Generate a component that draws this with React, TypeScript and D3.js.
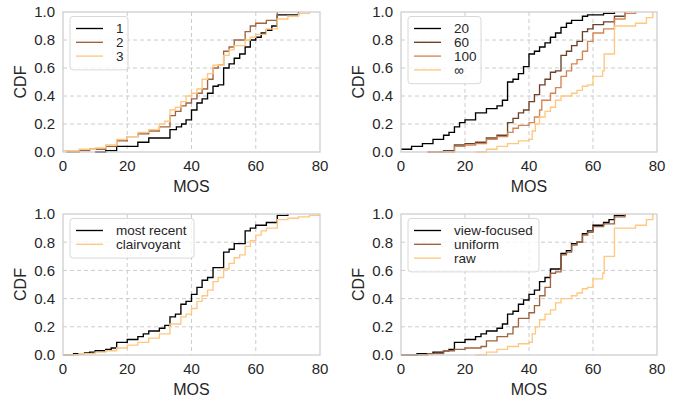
import React from 'react';
import * as d3 from 'd3';

// MOS ticks and CDF ticks
const xTicks = [0, 20, 40, 60, 80];
const yTicks = [0, 0.2, 0.4, 0.6, 0.8, 1.0];

// copper colormap samples
const copper = (t: number) =>
  d3.rgb(Math.min(255, 255 * 1.25 * t), 255 * 0.7812 * t, 255 * 0.4975 * t).formatHex();

type Pt = [number, number];

// panel 1: number of ...
const p1Labels = ['1', '2', '3'];
const p1Series: Pt[][] = [
  [[10, 0], [13.3, 0.01], [16.7, 0.04], [23.3, 0.07], [26.7, 0.1], [33.3, 0.16], [35.3, 0.18], [36.9, 0.2], [38.3, 0.23],
    [40, 0.3], [41.7, 0.35], [43.3, 0.38], [45, 0.42], [46.7, 0.47], [48.3, 0.48], [50, 0.6], [51.7, 0.63], [53.3, 0.67],
    [55, 0.7], [56.7, 0.75], [58.3, 0.8], [60, 0.82], [61.7, 0.85], [63.3, 0.87], [65, 0.9], [66.7, 0.98], [73.3, 1.0]],
  [[1, 0], [5, 0.01], [8.3, 0.02], [13.3, 0.04], [16.7, 0.08], [20, 0.11], [23.3, 0.13], [26.7, 0.15], [30, 0.18],
    [33.3, 0.26], [35, 0.29], [36.7, 0.33], [38.3, 0.35], [40, 0.38], [41.7, 0.42], [43.3, 0.45], [45, 0.52], [46.7, 0.6],
    [48.3, 0.62], [50, 0.72], [51.7, 0.75], [53.3, 0.8], [56.7, 0.86], [58.3, 0.9], [60, 0.92], [63.3, 0.94], [66.7, 1.0]],
  [[0, 0.01], [5, 0.02], [10, 0.03], [13.3, 0.05], [16.7, 0.09], [20, 0.11], [23.3, 0.14], [26.7, 0.16], [30, 0.2],
    [31.7, 0.22], [33.3, 0.3], [35, 0.32], [36.7, 0.36], [38.3, 0.4], [40, 0.42], [41.7, 0.45], [43.3, 0.52], [45, 0.56],
    [46.7, 0.62], [50, 0.69], [51.7, 0.73], [53.3, 0.76], [56.7, 0.8], [58.3, 0.82], [60, 0.84], [63.3, 0.88],
    [66.7, 0.95], [70, 0.97], [73.3, 0.99], [76.7, 1.0]],
];

// panel 2: window size
const p2Labels = ['20', '60', '100', '\u221e'];
const rawCurve: Pt[] = [[23.3, 0], [26.7, 0.02], [30, 0.04], [33.3, 0.06], [36.7, 0.08], [40, 0.09], [41, 0.15],
  [42, 0.2], [43.3, 0.25], [45, 0.29], [46.7, 0.32], [48.3, 0.37], [50, 0.4], [53.3, 0.42], [55, 0.44], [56.7, 0.47],
  [58.3, 0.48], [60, 0.54], [63, 0.58], [63.5, 0.7], [66.7, 0.9], [73.3, 0.92], [76.7, 0.96], [78.7, 1.0]];
const p2Series: Pt[][] = [
  [[0, 0.02], [3.3, 0.04], [6.7, 0.06], [10, 0.09], [13.3, 0.12], [15, 0.14], [16.7, 0.18], [18.3, 0.21], [20, 0.23],
    [23.3, 0.28], [26.7, 0.31], [30, 0.33], [31.7, 0.37], [33.3, 0.5], [35, 0.52], [36.7, 0.56], [38.3, 0.61],
    [40, 0.7], [41.7, 0.72], [43.3, 0.75], [45, 0.78], [46.7, 0.82], [48.3, 0.85], [50, 0.89], [51.7, 0.92],
    [53.3, 0.94], [56.7, 0.97], [58.3, 0.98], [63.3, 0.99], [66.7, 1.0]],
  [[8.3, 0], [13.3, 0.01], [16.7, 0.05], [20, 0.06], [23.3, 0.07], [26.7, 0.1], [30, 0.12], [33.3, 0.21], [35, 0.24],
    [36.7, 0.28], [38.3, 0.3], [40, 0.36], [41.7, 0.41], [43.3, 0.48], [45, 0.52], [46.7, 0.57], [48.3, 0.58],
    [50, 0.69], [51.7, 0.72], [53.3, 0.76], [55, 0.79], [56.7, 0.86], [58.3, 0.88], [60, 0.91], [63.3, 0.93],
    [66.7, 0.97], [70, 1.0]],
  [[8.3, 0], [16.7, 0.04], [20, 0.05], [23.3, 0.06], [26.7, 0.09], [30, 0.11], [33.3, 0.14], [35, 0.17], [36.7, 0.19],
    [40, 0.21], [41.7, 0.25], [43.3, 0.3], [44, 0.37], [46.7, 0.42], [48.3, 0.46], [50, 0.54], [51.7, 0.58],
    [53.3, 0.63], [55, 0.66], [56.7, 0.72], [58.3, 0.79], [60, 0.85], [63.3, 0.88], [66.7, 0.95], [70, 0.99], [73.3, 1.0]],
  rawCurve,
];

// panel 3: predictor
const p3Labels = ['most recent', 'clairvoyant'];
const p3Series: Pt[][] = [
  [[0, 0], [3.3, 0.01], [6.7, 0.015], [8.3, 0.02], [10, 0.03], [13.3, 0.04], [15, 0.05], [16.7, 0.09], [20, 0.11],
    [23.3, 0.13], [25, 0.15], [26.7, 0.17], [30, 0.19], [31.7, 0.21], [33.3, 0.27], [35, 0.29], [36.7, 0.36],
    [38.3, 0.38], [40, 0.43], [41.7, 0.48], [43.3, 0.53], [45, 0.55], [46.7, 0.62], [50, 0.73], [51.7, 0.75],
    [53.3, 0.79], [56.7, 0.88], [58.3, 0.9], [60, 0.92], [63.3, 0.94], [66.7, 0.99], [70, 1.0]],
  [[0, 0], [5, 0.01], [10, 0.02], [13.3, 0.03], [16.7, 0.05], [20, 0.07], [23.3, 0.09], [26.7, 0.12], [30, 0.15],
    [33.3, 0.22], [36.7, 0.27], [38.3, 0.29], [40, 0.33], [41.7, 0.38], [43.3, 0.42], [45, 0.46], [46.7, 0.52],
    [48.3, 0.55], [50, 0.61], [51.7, 0.65], [53.3, 0.69], [55, 0.71], [56.7, 0.77], [58.3, 0.81], [60, 0.85],
    [61.7, 0.88], [63.3, 0.9], [66.7, 0.96], [70, 0.97], [73.3, 0.98], [76.7, 0.99], [80, 1.0]],
];

// panel 4: weighting
const p4Labels = ['view-focused', 'uniform', 'raw'];
const p4Series: Pt[][] = [
  [[0, 0], [5, 0.01], [10, 0.02], [13.3, 0.03], [15, 0.04], [16.7, 0.09], [20, 0.11], [23.3, 0.13], [25, 0.15],
    [26.7, 0.17], [30, 0.19], [31.7, 0.22], [33.3, 0.29], [35, 0.31], [36.7, 0.36], [38.3, 0.39], [40, 0.43],
    [41.7, 0.46], [43.3, 0.52], [45, 0.55], [46.7, 0.61], [50, 0.72], [51.7, 0.74], [53.3, 0.79], [55, 0.8],
    [56.7, 0.86], [58.3, 0.88], [60, 0.92], [63.3, 0.94], [65, 0.96], [66.7, 0.99], [70, 1.0]],
  [[0, 0], [8.3, 0.01], [13.3, 0.03], [16.7, 0.04], [20, 0.05], [25, 0.06], [26.7, 0.1], [30, 0.13], [33.3, 0.15],
    [35, 0.2], [36.7, 0.26], [40, 0.3], [41.7, 0.35], [43.3, 0.42], [45, 0.48], [46.7, 0.58], [48.3, 0.59],
    [50, 0.71], [51.7, 0.73], [53.3, 0.78], [55, 0.8], [56.7, 0.85], [58.3, 0.87], [60, 0.91], [63.3, 0.93],
    [66.7, 0.98], [70, 1.0]],
  rawCurve,
];

const FONT = '"Liberation Sans", Arial, sans-serif';
const GRID = '#cccccc';

type PanelProps = {
  left: number; top: number; w: number; h: number;
  series: Pt[][]; labels: string[]; legendW: number;
};

const Panel = ({ left, top, w, h, series, labels, legendW }: PanelProps) => {
  const x = d3.scaleLinear().domain([0, 80]).range([0, w]);
  const y = d3.scaleLinear().domain([0, 1]).range([h, 0]);
  const line = d3.line<Pt>().x(d => x(d[0])).y(d => y(d[1])).curve(d3.curveStepAfter);
  const n = labels.length;
  const colors = labels.map((_, i) => copper(n === 1 ? 0 : i / (n - 1)));
  const rowH = 13.8;
  return (
    <g transform={`translate(${left},${top})`}>
      <defs>
        <clipPath id={`clip-${left}-${top}`}>
          <rect x={0} y={-1} width={w} height={h + 2} />
        </clipPath>
      </defs>
      {xTicks.slice(1, -1).map(t => (
        <line key={'gx' + t} x1={x(t)} x2={x(t)} y1={0} y2={h} stroke={GRID} strokeDasharray="4,3" strokeWidth={1} />
      ))}
      {yTicks.slice(1, -1).map(t => (
        <line key={'gy' + t} x1={0} x2={w} y1={y(t)} y2={y(t)} stroke={GRID} strokeDasharray="4,3" strokeWidth={1} />
      ))}
      <g clipPath={`url(#clip-${left}-${top})`}>
        {series.map((s, i) => (
          <path key={i} d={line(s) || ''} fill="none" stroke={colors[i]} strokeWidth={1.35} />
        ))}
      </g>
      <rect x={0} y={0} width={w} height={h} fill="none" stroke={GRID} strokeWidth={1.25} />
      {xTicks.map(t => (
        <text key={'tx' + t} x={x(t)} y={h + 19} textAnchor="middle" fontSize={15} fill="#262626">{t}</text>
      ))}
      {yTicks.map(t => (
        <text key={'ty' + t} x={-8} y={y(t) + 5.3} textAnchor="end" fontSize={15} fill="#262626">{t.toFixed(1)}</text>
      ))}
      <text x={w / 2} y={h + 40} textAnchor="middle" fontSize={16} fill="#262626">MOS</text>
      <text transform={`translate(${-37},${h / 2}) rotate(-90)`} textAnchor="middle" fontSize={16} fill="#262626">CDF</text>
      <g transform="translate(7,4.5)">
        <rect x={0} y={0} width={legendW} height={n * rowH + 12} rx={3} fill="#ffffff" fillOpacity={0.8} stroke="#d8d8d8" strokeWidth={1} />
        {labels.map((l, i) => (
          <g key={l} transform={`translate(0,${12 + i * rowH})`}>
            <line x1={6} x2={33} y1={0} y2={0} stroke={colors[i]} strokeWidth={1.35} />
            <text x={46} y={4.8} fontSize={13.5} fill="#262626">{l}</text>
          </g>
        ))}
      </g>
    </g>
  );
};

export default function App() {
  return (
    <svg width={681} height={401} style={{ position: 'absolute', left: 0, top: 0, fontFamily: FONT }}>
      <rect width={681} height={401} fill="#ffffff" />
      <Panel left={63} top={12} w={257} h={140} series={p1Series} labels={p1Labels} legendW={58} />
      <Panel left={401} top={12} w={256} h={140} series={p2Series} labels={p2Labels} legendW={73} />
      <Panel left={63} top={214} w={257} h={141} series={p3Series} labels={p3Labels} legendW={124} />
      <Panel left={401} top={214} w={256} h={141} series={p4Series} labels={p4Labels} legendW={131} />
    </svg>
  );
}
